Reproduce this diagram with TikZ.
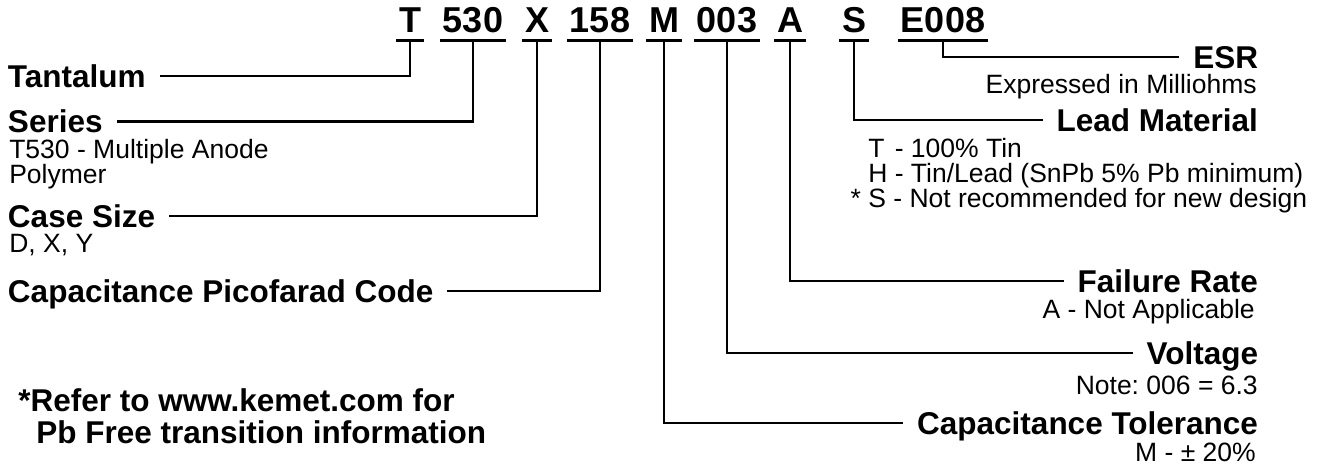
\documentclass[tikz,border=0pt]{standalone}
\usepackage{fontspec}
\setmainfont{Liberation Sans}
\usetikzlibrary{positioning}
\frenchspacing

\begin{document}
\begin{tikzpicture}[
  x=0.5pt, y=-0.5pt,
  line width=1.3pt,
  code/.style={font=\fontsize{18pt}{20pt}\selectfont\bfseries, inner xsep=0.75pt, inner ysep=3.25pt, text height=13pt, text depth=0pt, anchor=base},
  lbl/.style={font=\fontsize{15.75pt}{17pt}\selectfont\bfseries, inner sep=0pt, outer xsep=7pt, text height=11.3pt, text depth=0pt},
  sub/.style={font=\fontsize{13.25pt}{12.5pt}\selectfont, inner sep=0pt},
  note/.style={font=\fontsize{15.75pt}{17pt}\selectfont\bfseries, inner sep=0pt, anchor=base west}
]
  \useasboundingbox (0,0) rectangle (1320,465);

  % part number
  \node[code] (cT)   at (410,33) {T};
  \node[code] (c530) at (473,33) {530};
  \node[code] (cX)   at (537,33) {X};
  \node[code] (c158) at (600,33) {158};
  \node[code] (cM)   at (664,33) {M};
  \node[code] (c003) at (727,33) {003};
  \node[code] (cA)   at (790,33) {A};
  \node[code] (cS)   at (854,33) {S};
  \node[code] (cE)   at (943,33) {E008};
  \foreach \c in {cT,c530,cX,c158,cM,c003,cA,cS,cE}
    \draw (\c.south west) -- (\c.south east);

  % left side
  \node[lbl, anchor=base west] (tant)   at (-6,87.3)  {Tantalum};
  \node[lbl, anchor=base west] (series) at (-6,132.8) {Series};
  \node[sub, anchor=base west] (ser1)   at (8,158) {T530 - Multiple Anode};
  \node[sub, anchor=base west] (ser2)   at (8,183) {Polymer};
  \node[lbl, anchor=base west] (case)   at (-6,227.3) {Case Size};
  \node[sub, anchor=base west] (case1)  at (8,252) {D, X, Y};
  \node[lbl, anchor=base west] (cap)    at (-6,302.3) {Capacitance Picofarad Code};

  \node[note] (ref1) at (17,411) {*Refer to www.kemet.com for};
  \node[note] (ref2) at (35,443) {Pb Free transition information};

  % right side
  \node[lbl, anchor=base east] (esr)  at (1272,68.3)  {ESR};
  \node[sub, anchor=base east] (esr1) at (1258,93)    {Expressed in Milliohms};
  \node[lbl, anchor=base east] (lead) at (1272,131.3) {Lead Material};
  \node[sub, anchor=base west] (lead1) at (867,157) {\rlap{T}\phantom{H} - 100\% Tin};
  \node[sub, anchor=base west] (lead2) at (867,182) {H - Tin/Lead (SnPb 5\% Pb minimum)};
  \node[sub, anchor=base west] (lead3) at (867,207) {\llap{* }S - Not recommended for new design};
  \node[lbl, anchor=base east] (fail) at (1272,292.3) {Failure Rate};
  \node[sub, anchor=base east] (fail1) at (1256,318)  {A - Not Applicable};
  \node[lbl, anchor=base east] (volt) at (1272,364.3) {Voltage};
  \node[sub, anchor=base east] (volt1) at (1259,394)  {Note: 006 = 6.3};
  \node[lbl, anchor=base east] (tol)  at (1272,434.3) {Capacitance Tolerance};
  \node[sub, anchor=base east] (tol1) at (1257,461)   {M - ± 20\%};

  % connectors
  \draw (cT.south)   |- (tant.east);
  \draw (c530.south) |- (series.east);
  \draw (cX.south)   |- (case.east);
  \draw (c158.south) |- (cap.east);
  \draw (cM.south)   |- (tol.west);
  \draw (c003.south) |- (volt.west);
  \draw (cA.south)   |- (fail.west);
  \draw (cS.south)   |- (lead.west);
  \draw (cE.south)   |- (esr.west);
\end{tikzpicture}
\end{document}
